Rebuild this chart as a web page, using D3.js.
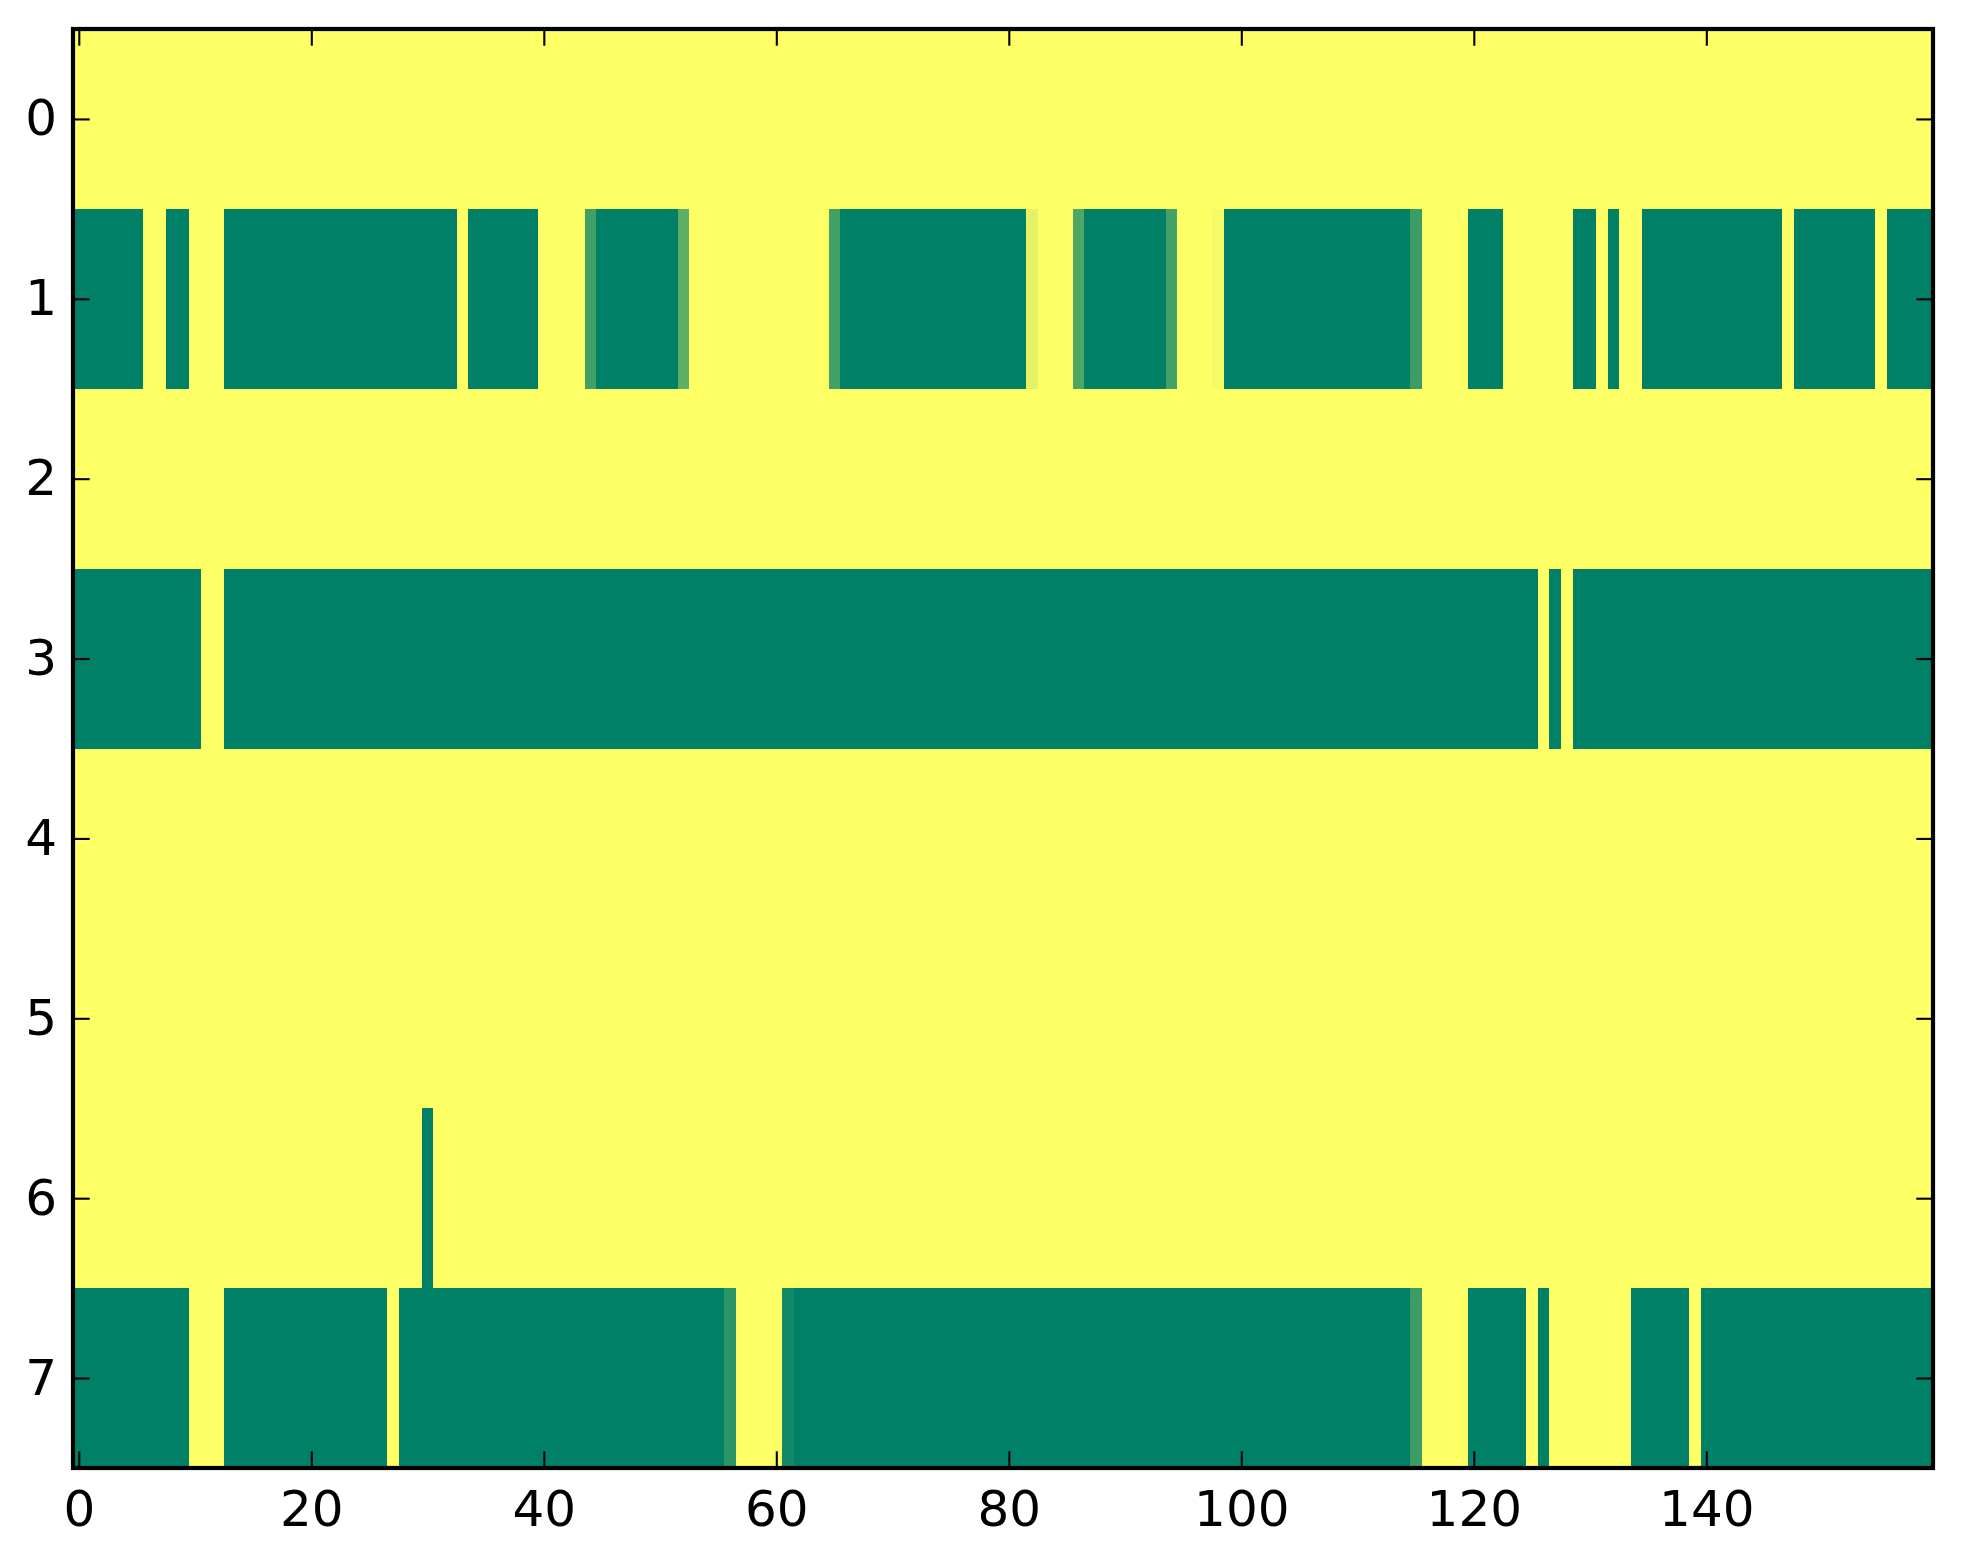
<!DOCTYPE html>
<html>
<head>
<meta charset="utf-8">
<script src="https://cdn.jsdelivr.net/npm/d3@7"></script>
<style>
  html, body { margin: 0; padding: 0; background: #ffffff; }
  svg { display: block; }
</style>
</head>
<body>
<svg id="chart" width="1963" height="1564"></svg>
<script>
// ---- data: 8 rows x 160 columns, values in [0,1] (summer colormap) ----
const rowLabels = [0, 1, 2, 3, 4, 5, 6, 7];
const xTickValues = [0, 20, 40, 60, 80, 100, 120, 140];
const yTickValues = [0, 1, 2, 3, 4, 5, 6, 7];

const row0 = [
  1,1,1,1,1,1,1,1,1,1,1,1,1,1,1,1,1,1,1,1,
  1,1,1,1,1,1,1,1,1,1,1,1,1,1,1,1,1,1,1,1,
  1,1,1,1,1,1,1,1,1,1,1,1,1,1,1,1,1,1,1,1,
  1,1,1,1,1,1,1,1,1,1,1,1,1,1,1,1,1,1,1,1,
  1,1,1,1,1,1,1,1,1,1,1,1,1,1,1,1,1,1,1,1,
  1,1,1,1,1,1,1,1,1,1,1,1,1,1,1,1,1,1,1,1,
  1,1,1,1,1,1,1,1,1,1,1,1,1,1,1,1,1,1,1,1,
  1,1,1,1,1,1,1,1,1,1,1,1,1,1,1,1,1,1,1,1
];
const row1 = [
  0,0,0,0,0,0,1,1,0,0,1,1,1,0,0,0,0,0,0,0,
  0,0,0,0,0,0,0,0,0,0,0,0,0,1,0,0,0,0,0,0,
  1,1,1,1,0.25,0,0,0,0,0,0,0,0.37,1,1,1,1,1,1,1,
  1,1,1,1,1,0.25,0,0,0,0,0,0,0,0,0,0,0,0,0,0,
  0,0,0.9,1,1,1,0.31,0,0,0,0,0,0,0,0.27,1,1,1,0.96,0,
  0,0,0,0,0,0,0,0,0,0,0,0,0,0,0,0.23,1,1,1,1,
  0,0,0,1,1,1,1,1,1,0,0,1,0,1,1,0,0,0,0,0,
  0,0,0,0,0,0,0,1,0,0,0,0,0,0,0,1,0,0,0,0
];
const row2 = [
  1,1,1,1,1,1,1,1,1,1,1,1,1,1,1,1,1,1,1,1,
  1,1,1,1,1,1,1,1,1,1,1,1,1,1,1,1,1,1,1,1,
  1,1,1,1,1,1,1,1,1,1,1,1,1,1,1,1,1,1,1,1,
  1,1,1,1,1,1,1,1,1,1,1,1,1,1,1,1,1,1,1,1,
  1,1,1,1,1,1,1,1,1,1,1,1,1,1,1,1,1,1,1,1,
  1,1,1,1,1,1,1,1,1,1,1,1,1,1,1,1,1,1,1,1,
  1,1,1,1,1,1,1,1,1,1,1,1,1,1,1,1,1,1,1,1,
  1,1,1,1,1,1,1,1,1,1,1,1,1,1,1,1,1,1,1,1
];
const row3 = [
  0,0,0,0,0,0,0,0,0,0,0,1,1,0,0,0,0,0,0,0,
  0,0,0,0,0,0,0,0,0,0,0,0,0,0,0,0,0,0,0,0,
  0,0,0,0,0,0,0,0,0,0,0,0,0,0,0,0,0,0,0,0,
  0,0,0,0,0,0,0,0,0,0,0,0,0,0,0,0,0,0,0,0,
  0,0,0,0,0,0,0,0,0,0,0,0,0,0,0,0,0,0,0,0,
  0,0,0,0,0,0,0,0,0,0,0,0,0,0,0,0,0,0,0,0,
  0,0,0,0,0,0,1,0,1,0,0,0,0,0,0,0,0,0,0,0,
  0,0,0,0,0,0,0,0,0,0,0,0,0,0,0,0,0,0,0,0
];
const row4 = [
  1,1,1,1,1,1,1,1,1,1,1,1,1,1,1,1,1,1,1,1,
  1,1,1,1,1,1,1,1,1,1,1,1,1,1,1,1,1,1,1,1,
  1,1,1,1,1,1,1,1,1,1,1,1,1,1,1,1,1,1,1,1,
  1,1,1,1,1,1,1,1,1,1,1,1,1,1,1,1,1,1,1,1,
  1,1,1,1,1,1,1,1,1,1,1,1,1,1,1,1,1,1,1,1,
  1,1,1,1,1,1,1,1,1,1,1,1,1,1,1,1,1,1,1,1,
  1,1,1,1,1,1,1,1,1,1,1,1,1,1,1,1,1,1,1,1,
  1,1,1,1,1,1,1,1,1,1,1,1,1,1,1,1,1,1,1,1
];
const row5 = [
  1,1,1,1,1,1,1,1,1,1,1,1,1,1,1,1,1,1,1,1,
  1,1,1,1,1,1,1,1,1,1,1,1,1,1,1,1,1,1,1,1,
  1,1,1,1,1,1,1,1,1,1,1,1,1,1,1,1,1,1,1,1,
  1,1,1,1,1,1,1,1,1,1,1,1,1,1,1,1,1,1,1,1,
  1,1,1,1,1,1,1,1,1,1,1,1,1,1,1,1,1,1,1,1,
  1,1,1,1,1,1,1,1,1,1,1,1,1,1,1,1,1,1,1,1,
  1,1,1,1,1,1,1,1,1,1,1,1,1,1,1,1,1,1,1,1,
  1,1,1,1,1,1,1,1,1,1,1,1,1,1,1,1,1,1,1,1
];
const row6 = [
  1,1,1,1,1,1,1,1,1,1,1,1,1,1,1,1,1,1,1,1,
  1,1,1,1,1,1,1,1,1,1,0,1,1,1,1,1,1,1,1,1,
  1,1,1,1,1,1,1,1,1,1,1,1,1,1,1,1,1,1,1,1,
  1,1,1,1,1,1,1,1,1,1,1,1,1,1,1,1,1,1,1,1,
  1,1,1,1,1,1,1,1,1,1,1,1,1,1,1,1,1,1,1,1,
  1,1,1,1,1,1,1,1,1,1,1,1,1,1,1,1,1,1,1,1,
  1,1,1,1,1,1,1,1,1,1,1,1,1,1,1,1,1,1,1,1,
  1,1,1,1,1,1,1,1,1,1,1,1,1,1,1,1,1,1,1,1
];
const row7 = [
  0,0,0,0,0,0,0,0,0,0,1,1,1,0,0,0,0,0,0,0,
  0,0,0,0,0,0,0,1,0,0,0,0,0,0,0,0,0,0,0,0,
  0,0,0,0,0,0,0,0,0,0,0,0,0,0,0,0,0.17,1,1,1,
  1,0.07,0,0,0,0,0,0,0,0,0,0,0,0,0,0,0,0,0,0,
  0,0,0,0,0,0,0,0,0,0,0,0,0,0,0,0,0,0,0,0,
  0,0,0,0,0,0,0,0,0,0,0,0,0,0,0,0.23,1,1,1,1,
  0,0,0,0,0,1,0,1,1,1,1,1,1,1,0,0,0,0,0,1,
  0,0,0,0,0,0,0,0,0,0,0,0,0,0,0,0,0,0,0,0
];
const rows = [row0, row1, row2, row3, row4, row5, row6, row7];

// ---- layout ----
const W = 1963, H = 1564;
const plot = { left: 73, right: 1933, top: 29, bottom: 1468 };
const nCols = row0.length;

const x = d3.scaleLinear().domain([-0.5, nCols - 0.5]).range([plot.left, plot.right]);
const y = d3.scaleLinear().domain([-0.5, rowLabels.length - 0.5]).range([plot.top, plot.bottom]);
const color = d3.scaleLinear().domain([0, 1]).range(["#008066", "#ffff66"]).interpolate(d3.interpolateRgb);

const svg = d3.select("#chart");
svg.append("rect").attr("width", W).attr("height", H).attr("fill", "#ffffff");

const cells = [];
rows.forEach((r, ri) => r.forEach((v, ci) => cells.push({ r: rowLabels[ri], c: ci, v })));

svg.append("g")
  .attr("shape-rendering", "crispEdges")
  .selectAll("rect")
  .data(cells)
  .join("rect")
  .attr("x", d => x(d.c - 0.5))
  .attr("y", d => y(d.r - 0.5))
  .attr("width", d => x(d.c + 0.5) - x(d.c - 0.5))
  .attr("height", d => y(d.r + 0.5) - y(d.r - 0.5))
  .attr("fill", d => color(d.v));

const tickLen = 16.7;
const fontFamily = "'DejaVu Sans', sans-serif";
const fontSize = 50;

function styleAxis(g) {
  g.select(".domain").remove();
  g.selectAll(".tick line").attr("stroke", "#000").attr("stroke-width", 2.1);
  g.selectAll(".tick text").attr("fill", "#000").style("font-family", fontFamily).style("font-size", fontSize + "px");
}

svg.append("g")
  .attr("transform", `translate(0,${plot.bottom})`)
  .call(d3.axisBottom(x).tickValues(xTickValues).tickSize(-tickLen).tickPadding(22).tickFormat(d3.format("d")))
  .call(styleAxis);

svg.append("g")
  .attr("transform", `translate(0,${plot.top})`)
  .call(d3.axisTop(x).tickValues(xTickValues).tickSize(-tickLen).tickFormat(""))
  .call(styleAxis);

svg.append("g")
  .attr("transform", `translate(${plot.left},0)`)
  .call(d3.axisLeft(y).tickValues(yTickValues).tickSize(-tickLen).tickPadding(16).tickFormat(d3.format("d")))
  .call(styleAxis);

svg.append("g")
  .attr("transform", `translate(${plot.right},0)`)
  .call(d3.axisRight(y).tickValues(yTickValues).tickSize(-tickLen).tickFormat(""))
  .call(styleAxis);

svg.append("rect")
  .attr("x", plot.left).attr("y", plot.top)
  .attr("width", plot.right - plot.left).attr("height", plot.bottom - plot.top)
  .attr("fill", "none").attr("stroke", "#000").attr("stroke-width", 4.2);
</script>
</body>
</html>
